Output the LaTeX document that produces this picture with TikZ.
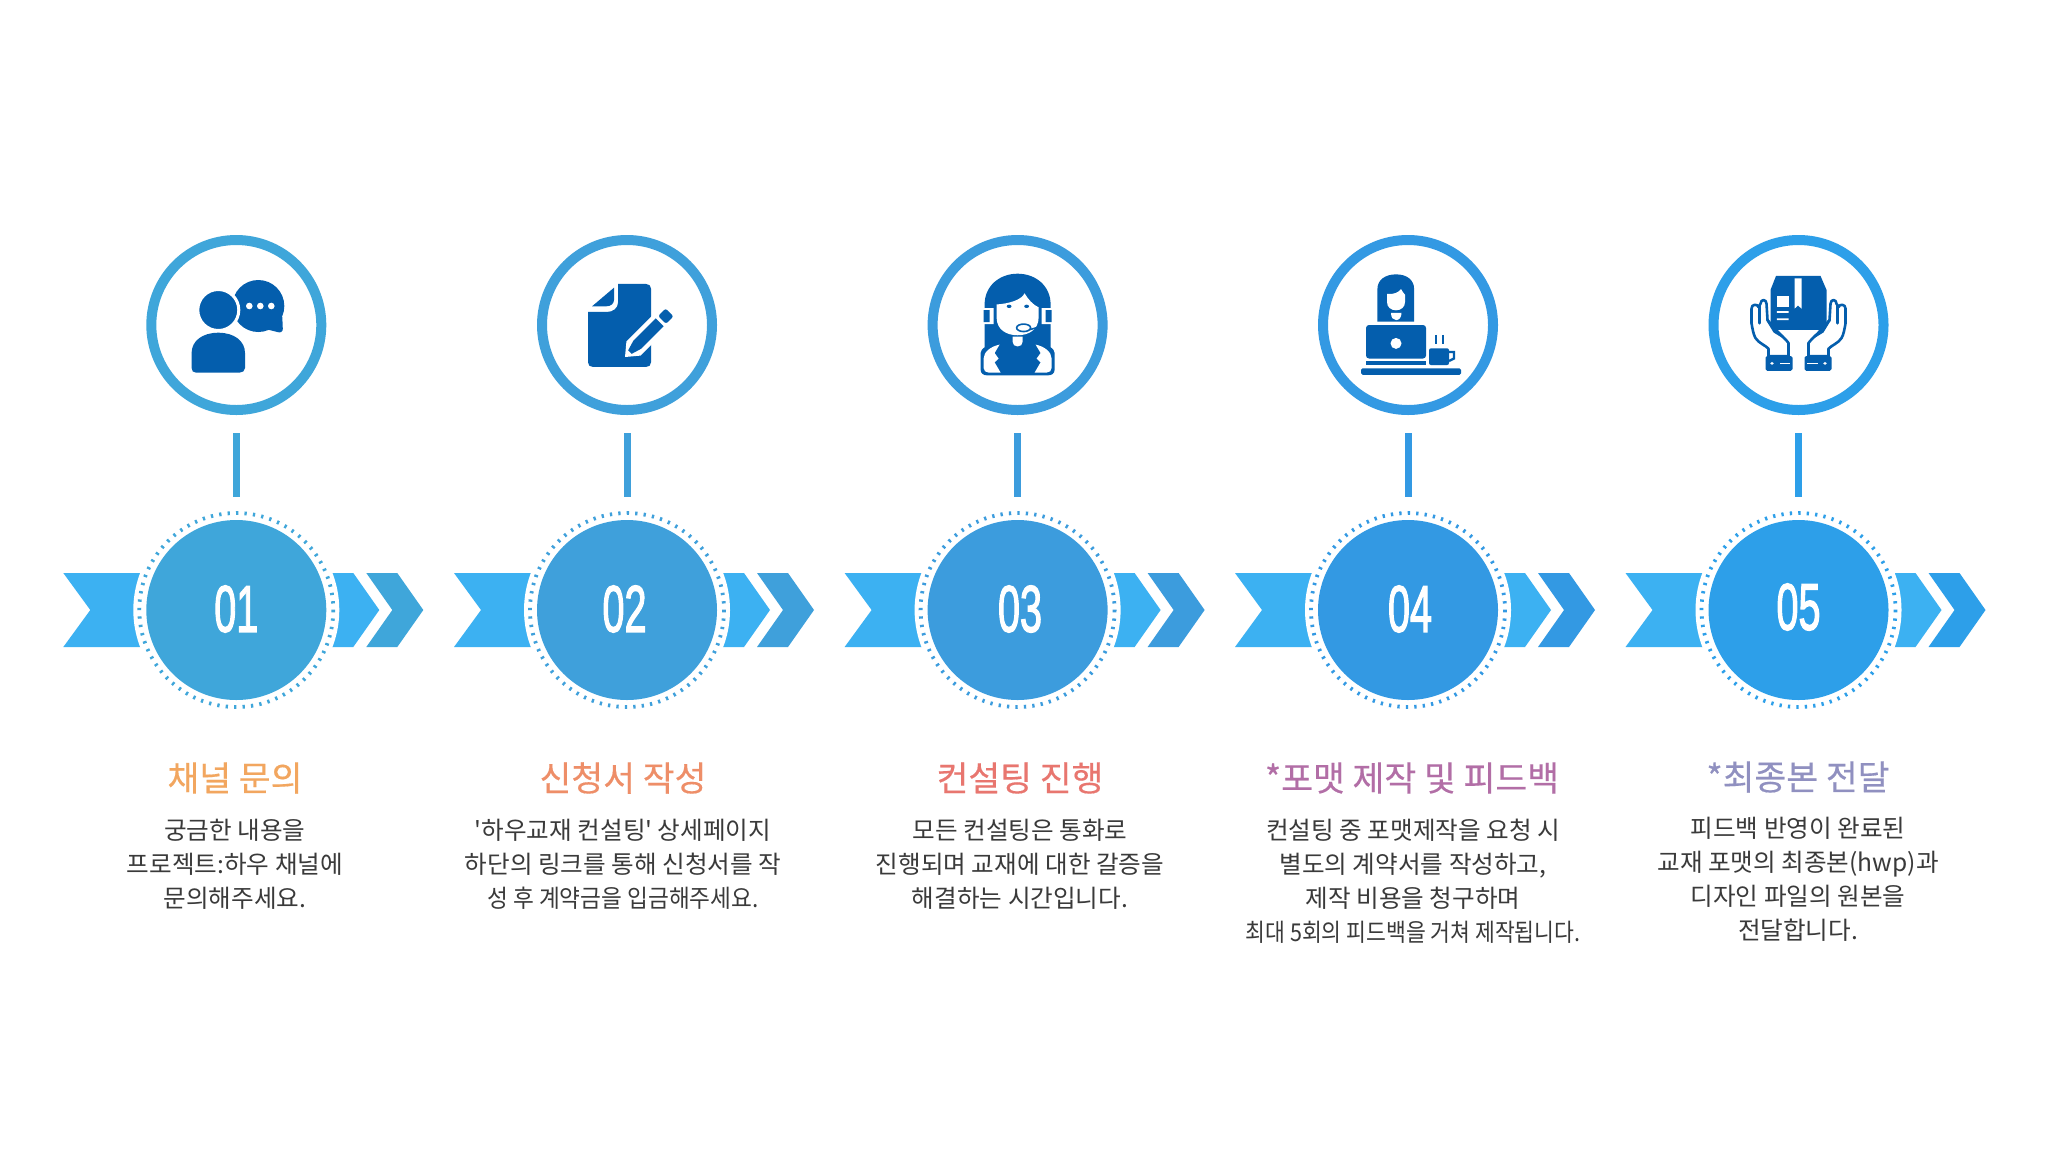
\documentclass[tikz,border=0pt]{standalone}
\usepackage{fontspec}
\setmainfont{Liberation Sans}
\newfontfamily\krfont{Noto Sans CJK KR}
\newfontfamily\krtitle[FakeBold=0.4]{Noto Sans CJK KR}
\newfontfamily\numfont[FakeBold=2.4]{Liberation Sans}
\definecolor{iconblue}{HTML}{045EAD}
\definecolor{ribbonblue}{HTML}{3CB1F2}
\definecolor{ca}{HTML}{3FA6DA}
\definecolor{cb}{HTML}{3FA0DB}
\definecolor{cc}{HTML}{3C9CDD}
\definecolor{cd}{HTML}{3399E3}
\definecolor{ce}{HTML}{2D9FE9}
\definecolor{bodytext}{HTML}{3A3A3A}
\definecolor{ta}{HTML}{F2A65F}
\definecolor{tb}{HTML}{EE8E68}
\definecolor{tc}{HTML}{E8766F}
\definecolor{td}{HTML}{B26EA6}
\definecolor{te}{HTML}{9090C0}
\tikzset{
  ringnode/.style={circle,draw=#1,line width=5pt,fill=white,minimum size=85pt,inner sep=0pt},
  discnode/.style={circle,fill=#1,minimum size=90pt,inner sep=0pt,outer sep=0pt},
  numtext/.style={text=white,font=\numfont\fontsize{33}{33}\selectfont,xscale=.6,transform shape,inner sep=0pt},
  linkline/.style={draw=#1,line width=3.5pt,shorten <=9pt,shorten >=11.5pt},
  ticks/.style={draw=#1,line width=1.9pt,dash pattern=on 1.15pt off 3.08pt},
  titletext/.style={text=#1,font=\krtitle\fontsize{17.3}{20}\selectfont,inner sep=0pt},
  bodynode/.style={text=bodytext,font=\krfont\fontsize{12.3}{17}\selectfont,align=center,inner sep=0pt,anchor=north},
  icon/.style={fill=iconblue},
  iconline/.style={draw=iconblue,line width=1.3pt,line join=round,line cap=round},
  gapline/.style={draw=white,line width=1.5pt}
}
\newcommand\iconA{
  \fill[icon] (22,-19) circle (26);
  \fill[icon] (46,-8) -- (46.5,4) .. controls (46.5,7) and (44,8) .. (41,7) -- (33,5) -- (28,-5) -- cycle;
  \fill[white] (13,-19) circle (3.3) (24,-19) circle (3.3) (35,-19) circle (3.3);
  \filldraw[icon,gapline] (-18,-15) circle (20.5);
  \fill[icon] (-44.7,28) .. controls (-44.7,16) and (-34,7.7) .. (-18,7.7) .. controls (-2,7.7) and (8.7,16) .. (8.7,28) -- (8.7,43) .. controls (8.7,46) and (6,47.7) .. (3,47.7) -- (-40,47.7) .. controls (-43,47.7) and (-44.7,46) .. (-44.7,43) -- cycle;
}
\newcommand\iconB{
  \begin{scope}[yscale=.933]
  \fill[icon] (-9,-44) -- (19,-44) .. controls (22,-44) and (24,-42) .. (24,-39) -- (24,40) .. controls (24,43) and (22,45) .. (19,45) -- (-34,45) .. controls (-37,45) and (-39,43) .. (-39,40) -- (-39,-14) -- (-20,-14) .. controls (-14,-14) and (-9,-18) .. (-9,-24) -- cycle;
  \fill[icon] (-13,-40) -- (-35,-20) -- (-21,-20) .. controls (-16,-20) and (-13,-23) .. (-13,-27) -- cycle;
  \end{scope}
  \begin{scope}[shift={(-2,32)},rotate=45]
    \fill[white,line join=round] (0,0) -- (12,-10) -- (57,-10) -- (57,10) -- (12,10) -- cycle;
    \fill[icon] (7,-2.5) -- (17,-5.5) -- (49,-5.5) -- (49,5.5) -- (17,5.5) -- (7,2.5) -- cycle;
    \fill[icon,rounded corners=1pt] (52.5,-5.5) rectangle (63,5.5);
  \end{scope}
}
\newcommand\iconC{
  \begin{scope}[yscale=.933]
  \fill[icon] (-33,25) -- (-33,-22) .. controls (-33,-42) and (-18,-55) .. (0,-55) .. controls (18,-55) and (33,-42) .. (33,-22) -- (33,25) -- cycle;
  \fill[icon] (-37,30) .. controls (-37,25) and (-30,21) .. (-20,20) -- (20,20) .. controls (30,21) and (37,25) .. (37,30) -- (37,48) .. controls (37,52) and (34,54) .. (30,54) -- (-30,54) .. controls (-34,54) and (-37,52) .. (-37,48) -- cycle;
  \fill[white] (-21,-22) .. controls (-8,-23) and (4,-27) .. (7,-34) .. controls (10,-28) and (16,-21) .. (21,-19) -- (21,-8) .. controls (21,5) and (11,11) .. (0,11) .. controls (-11,11) and (-21,5) .. (-21,-8) -- cycle;
  \fill[icon] (-8.5,-20) ellipse (2.4 and 1.8) (9,-20) ellipse (2.4 and 1.8);
  \fill[white] (-36,-18) rectangle (-24,-1) (24,-18) rectangle (36,-1);
  \fill[icon] (-34,-16) rectangle (-28,-3) (28,-16) rectangle (34,-3);
  \draw[draw=iconblue,line width=.8pt,fill=white] (6,3) ellipse (7 and 4);
  \draw[draw=iconblue,line width=.8pt] (12,5) -- (22,2);
  \fill[white] (-5,12.5) -- (5,12.5) -- (5,18) .. controls (5,21) and (3,23) .. (0,23) .. controls (-3,23) and (-5,21) .. (-5,18) -- cycle;
  \foreach \s in {1,-1}{
    \fill[white,xscale=\s] (-18,21) .. controls (-27,23) and (-34,29) .. (-34,36) -- (-34,46) .. controls (-34,49) and (-32,51) .. (-29,51) -- (-17,51) -- (-23,40) -- (-19,36) -- (-23,30) -- cycle;
  }
  \end{scope}
}
\newcommand\iconD{
  \begin{scope}[yscale=.817]
  \fill[icon] (-30.6,-4) -- (-30.6,-44) .. controls (-30.6,-55) and (-23,-62) .. (-12,-62) .. controls (-1,-62) and (6.1,-55) .. (6.1,-44) -- (6.1,-4) -- cycle;
  \fill[white] (-21,-38) .. controls (-15,-37) and (-9,-40) .. (-7,-44) .. controls (-6,-41) and (-4,-39) .. (-3,-37) -- (-3,-28) .. controls (-3,-22) and (-7,-18) .. (-12,-18) .. controls (-17,-18) and (-21,-22) .. (-21,-28) -- cycle;
  \fill[white] (-17,-15) -- (-6.5,-15) .. controls (-6.5,-9) and (-9,-6) .. (-12,-6) .. controls (-15,-6) and (-17,-9) .. (-17,-15) -- cycle;
  \fill[icon,rounded corners=1.5pt] (-42,41) -- (-42,0) -- (18,0) -- (18,41) -- cycle;
  \fill[white] (-12,22.5) ellipse (5.5 and 6.7);
  \fill[icon] (-42,44.5) rectangle (18,48.5);
  \fill[icon,rounded corners=.8pt] (-47,53) rectangle (53,61);
  \fill[icon,rounded corners=1pt] (21,28.5) rectangle (41,49);
  \draw[draw=iconblue,line width=1.2pt] (41,33) -- (46,33) -- (46,41) -- (41,44);
  \draw[draw=iconblue,line width=1.2pt] (28,12) -- (28,23) (35,12) -- (35,23);
  \end{scope}
}
\newcommand\iconE{
  \begin{scope}[yscale=.817]
  \fill[icon] (-22.5,-60) -- (22,-60) -- (28,-43) -- (28,4) -- (24,6) -- (-24,6) -- (-28,4) -- (-28,-43) -- cycle;
  \fill[white] (-4,-57) -- (3,-57) -- (3,-20) -- (-.5,-24) -- (-4,-20) -- cycle;
  \fill[white] (-21.6,-35.5) rectangle (-10,-21.6);
  \fill[white] (-21.6,-17) rectangle (-10,-15) (-21.6,-8) rectangle (-10,-6);
  \foreach \s in {1,-1}{
    \begin{scope}[xscale=\s]
      \filldraw[iconline,fill=white] (-10,38) -- (-10,22) .. controls (-13,17) and (-18,12) .. (-21,8) -- (-31,-6) -- (-32,-26) .. controls (-32,-32) and (-38,-32) .. (-38,-26) -- (-40,-22) .. controls (-41,-26) and (-47,-26) .. (-47,-20) -- (-47,-2) .. controls (-46,5) and (-45,12) .. (-43,16) .. controls (-40,22) and (-33,25) .. (-30,29) -- (-30,38) -- cycle;
      \draw[iconline] (-39,-24) -- (-39,-2) (-31,-6) -- (-24,8) -- (-16,14);
      \fill[icon,rounded corners=.8pt] (-33,38) rectangle (-6,56);
      \fill[white] (-26.5,47) circle (1.8);
      \fill[white] (-19,46) rectangle (-8.5,48);
    \end{scope}
  }
  \end{scope}
}
\begin{document}
\begin{tikzpicture}[x=.5pt,y=-.5pt]
\useasboundingbox (0,0) rectangle (2048,1152);
\fill[white] (0,0) rectangle (2048,1152);
\foreach \n/\cx/\col/\num/\numx/\numy/\ico in {
  1/236.3/ca/01/236.3/609/\iconA,
  2/627/cb/02/624.5/609/\iconB,
  3/1017.6/cc/03/1020/609/\iconC,
  4/1408/cd/04/1410/609/\iconD,
  5/1798.5/ce/05/1798.5/607/\iconE}{
  \begin{scope}[shift={(\cx,610)}]
    \fill[ribbonblue] (-173,-37) -- (-90,-37) -- (-90,37) -- (-173,37) -- (-146,0) -- cycle;
    \fill[ribbonblue] (90,-37) -- (117,-37) -- (143,0) -- (117,37) -- (90,37) -- cycle;
    \fill[\col] (130,-37) -- (161,-37) -- (187,0) -- (161,37) -- (130,37) -- (156,0) -- cycle;
    \fill[white] (0,0) circle (103);
    \draw[ticks=\col] (0,0) circle (97);
  \end{scope}
  \node[ringnode=\col] (ring\n) at (\cx,325) {};
  \node[discnode=\col] (disc\n) at (\cx,610) {};
  \node[numtext] (num\n) at (\numx,\numy) {\num};
  \draw[linkline=\col] (ring\n) -- (disc\n);
  \begin{scope}[shift={(\cx,325)}]
    \ico
  \end{scope}
}
\node[titletext=ta] (t1) at (235,778) {채널 문의};
\node[titletext=tb] (t2) at (623,778) {신청서 작성};
\node[titletext=tc] (t3) at (1020,778) {컨설팅 진행};
\node[titletext=td] (t4) at (1412,778) {*포맷 제작 및 피드백};
\node[titletext=te] (t5) at (1798,777) {*최종본 전달};
\node[bodynode] (b1) at (235,819) {궁금한 내용을\\프로젝트:하우 채널에\\문의해주세요.};
\node[bodynode] (b2) at (623,819) {'하우교재 컨설팅' 상세페이지\\하단의 링크를 통해 신청서를 작\\\scalebox{.92}[1]{성 후 계약금을 입금해주세요.}};
\node[bodynode] (b3) at (1020,819) {모든 컨설팅은 통화로\\진행되며 교재에 대한 갈증을\\해결하는 시간입니다.};
\node[bodynode] (b4) at (1413,819) {컨설팅 중 포맷제작을 요청 시\\별도의 계약서를 작성하고,\\제작 비용을 청구하며\\\scalebox{.877}[1]{최대 5회의 피드백을 거쳐 제작됩니다.}};
\node[bodynode] (b5) at (1798,817) {피드백 반영이 완료된\\교재 포맷의 최종본(hwp)과\\디자인 파일의 원본을\\전달합니다.};
\end{tikzpicture}
\end{document}
